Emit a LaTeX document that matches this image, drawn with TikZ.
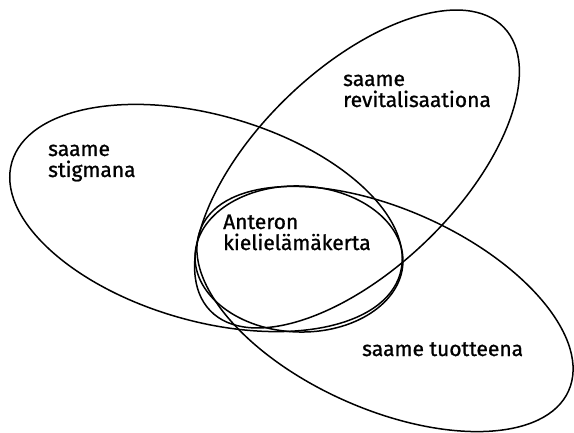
\documentclass[tikz,border=0pt]{standalone}
\usepackage{fontspec}
\setmainfont{Fira Sans}
\newfontfamily\lblfont{Fira Sans}[FakeBold=1.0]
\begin{document}
\begin{tikzpicture}[x=1pt,y=1pt,
  setline/.style={draw=black,line width=1.5pt},
  lbl/.style={inner sep=0pt,align=left,anchor=base west,font=\lblfont\fontsize{21}{21}\selectfont}]
\useasboundingbox (0,0) rectangle (574,432);
% stigmana
\draw[setline,rotate around={-16:(206,214)}] (206,214) ellipse [x radius=202,y radius=103];
% revitalisaatio
\draw[setline,rotate around={44:(357,263)}] (357,263) ellipse [x radius=204,y radius=100];
% tuotteena
\draw[setline,rotate around={-24:(385,123)}] (385,123) ellipse [x radius=201,y radius=100];
% Anteron
\draw[setline,rotate around={-2:(299,173)}] (299,173) ellipse [x radius=104,y radius=73];
\node[lbl] (stig) at (48,255) {saame\\stigmana};
\node[lbl] (revi) at (343,325) {saame\\revitalisaationa};
\node[lbl] (ante) at (223,182) {Anteron\\kielielämäkerta};
\node[lbl] (tuot) at (362,76) {saame tuotteena};
\end{tikzpicture}
\end{document}
